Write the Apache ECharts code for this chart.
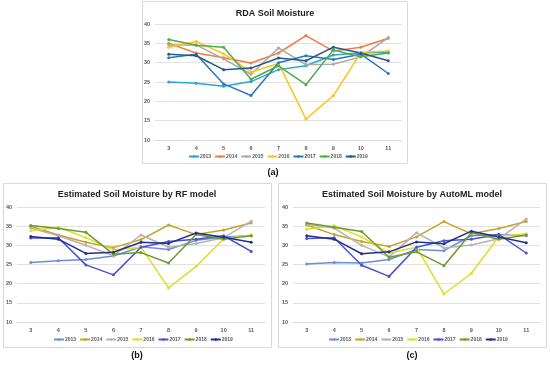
<!DOCTYPE html>
<html>
<head>
<meta charset="utf-8">
<script src="https://cdn.jsdelivr.net/npm/echarts@6/dist/echarts.min.js"></script>
<style>html,body{margin:0;padding:0;background:#fff}#c{width:550px;height:366px}</style>
</head>
<body>
<div id="c"></div>
<script>
const months = ['3','4','5','6','7','8','9','10','11'];
const years = ['2013','2014','2015','2016','2017','2018','2019'];
const yTicks = [10, 40, 5];

// RDA Soil Moisture (a)
const rda2013 = [25.0, 24.7, 23.9, 25.1, 28.2, 29.2, 32.0, 32.5, 32.7];
const rda2014 = [35.0, 32.5, 31.3, 29.9, 32.5, 37.0, 33.0, 34.0, 36.3];
const rda2015 = [34.6, 34.6, 31.0, 27.0, 33.8, 29.5, 29.6, 31.5, 36.5];
const rda2016 = [34.0, 35.5, 32.3, 27.6, 29.8, 15.4, 21.5, 32.6, 33.0];
const rda2017 = [31.3, 32.2, 24.5, 21.5, 30.0, 31.8, 30.8, 32.2, 27.2];
const rda2018 = [36.0, 34.5, 34.0, 25.7, 29.2, 24.3, 33.3, 31.5, 32.5];
const rda2019 = [32.2, 31.8, 28.2, 28.6, 31.2, 30.5, 34.0, 32.5, 30.5];

// Estimated by RF model (b)
const rf2013 = [25.5, 26.0, 26.3, 27.2, 29.6, 28.9, 31.3, 32.2, 32.5];
const rf2014 = [35.0, 32.7, 30.8, 29.4, 31.5, 35.3, 32.8, 34.0, 35.8];
const rf2015 = [34.5, 32.5, 30.0, 27.3, 32.7, 29.5, 30.5, 32.0, 36.3];
const rf2016 = [33.8, 34.7, 32.0, 28.8, 29.5, 18.9, 24.5, 31.7, 32.7];
const rf2017 = [31.9, 32.0, 24.9, 22.3, 29.5, 31.0, 31.6, 32.5, 28.4];
const rf2018 = [35.2, 34.4, 33.4, 27.7, 28.1, 25.4, 32.8, 31.6, 32.5];
const rf2019 = [32.3, 31.6, 27.9, 28.2, 30.8, 30.5, 33.2, 32.1, 30.8];

// Estimated by AutoML model (c)
const ml2013 = [25.1, 25.5, 25.4, 26.3, 28.9, 28.6, 32.5, 32.8, 32.5];
const ml2014 = [35.3, 32.8, 31.0, 29.7, 32.2, 36.2, 33.0, 34.4, 36.2];
const ml2015 = [35.5, 34.5, 30.0, 27.0, 33.3, 29.3, 30.1, 31.7, 36.9];
const ml2016 = [34.2, 35.1, 32.2, 28.0, 29.5, 17.3, 22.7, 32.3, 33.0];
const ml2017 = [31.8, 32.0, 24.8, 21.9, 29.5, 31.2, 31.6, 32.8, 28.0];
const ml2018 = [35.8, 34.7, 33.6, 26.9, 28.3, 24.7, 33.3, 31.6, 32.7];
const ml2019 = [32.5, 31.6, 27.8, 28.3, 30.9, 30.4, 33.7, 32.2, 30.7];

const rdaValues = [rda2013, rda2014, rda2015, rda2016, rda2017, rda2018, rda2019];
const rfValues = [rf2013, rf2014, rf2015, rf2016, rf2017, rf2018, rf2019];
const mlValues = [ml2013, ml2014, ml2015, ml2016, ml2017, ml2018, ml2019];

const colorsA = ['#2BA3D3', '#F47B48', '#A8A8A8', '#FFC21A', '#2F76B6', '#4CAD4A', '#1F5B8A'];
const colorsB = ['#6B8EDB', '#C8A12B', '#BAB0B0', '#DCE02C', '#4A52CF', '#6C9A2E', '#232F8E'];

const FONT = 'Liberation Sans';
const panels = [
  {key: 'a', title: 'RDA Soil Moisture', values: rdaValues, colors: colorsA,
   box: [142, 1, 265, 162], grid: [155, 24, 247, 116], tx: 275, ty: 14, legX: 188, legY: 154, lab: '(a)', lx: 273, ly: 173},
  {key: 'b', title: 'Estimated Soil Moisture by RF model', values: rfValues, colors: colorsB,
   box: [3, 183, 268, 164], grid: [17, 207, 248, 115], tx: 137, ty: 195, legX: 53, legY: 337, lab: '(b)', lx: 137, ly: 356},
  {key: 'c', title: 'Estimated Soil Moisture by AutoML model', values: mlValues, colors: colorsB,
   box: [278, 183, 268, 164], grid: [293, 207, 247, 115], tx: 412, ty: 195, legX: 328, legY: 337, lab: '(c)', lx: 412, ly: 356}
];

const option = {
  animation: false,
  backgroundColor: '#fff',
  grid: [], xAxis: [], yAxis: [], series: [], legend: [], graphic: []
};

panels.forEach((p, i) => {
  option.graphic.push({type: 'rect', shape: {x: p.box[0] + 0.5, y: p.box[1] + 0.5, width: p.box[2], height: p.box[3]},
    style: {fill: '#fff', stroke: '#D9D9D9', lineWidth: 1}, z: -10});
  option.graphic.push({type: 'text', x: p.tx, y: p.ty, style: {text: p.title, font: 'bold 9px "' + FONT + '"', fill: '#222',
    textAlign: 'center', textVerticalAlign: 'middle'}, z: 10});
  option.graphic.push({type: 'text', x: p.lx, y: p.ly, style: {text: p.lab, font: 'bold 9px "' + FONT + '"', fill: '#111',
    textAlign: 'center', textVerticalAlign: 'middle'}, z: 10});
  option.grid.push({left: p.grid[0], top: p.grid[1], width: p.grid[2], height: p.grid[3], containLabel: false});
  option.xAxis.push({type: 'category', gridIndex: i, data: months, boundaryGap: true,
    axisTick: {show: false}, axisLine: {lineStyle: {color: '#D9D9D9', width: 1}},
    axisLabel: {fontSize: 5.5, fontWeight: 'bold', color: '#595959', margin: 5, fontFamily: FONT}});
  option.yAxis.push({type: 'value', gridIndex: i, min: yTicks[0], max: yTicks[1], interval: yTicks[2],
    axisLine: {show: false}, axisTick: {show: false},
    splitLine: {lineStyle: {color: '#E2E2E2', width: 1}},
    axisLabel: {fontSize: 5.5, fontWeight: 'bold', color: '#595959', margin: 5, fontFamily: FONT}});
  const names = [];
  years.forEach((y, k) => {
    const nm = p.key + y;
    names.push(nm);
    option.series.push({type: 'line', name: nm, xAxisIndex: i, yAxisIndex: i, data: p.values[k],
      color: p.colors[k], symbol: 'circle', symbolSize: 3, showSymbol: true,
      lineStyle: {width: 1.5, color: p.colors[k]}, itemStyle: {color: p.colors[k]}, silent: true});
  });
  option.legend.push({data: names, left: p.legX, top: p.legY, orient: 'horizontal', itemGap: 3,
    itemWidth: 10, itemHeight: 3, padding: 0,
    formatter: n => n.slice(1),
    textStyle: {fontSize: 5, fontWeight: 'bold', color: '#595959', fontFamily: FONT, padding: [0, 0, 0, -4]}});
});

const chart = echarts.init(document.getElementById('c'), null, {renderer: 'canvas'});
chart.setOption(option);
</script>
</body>
</html>
